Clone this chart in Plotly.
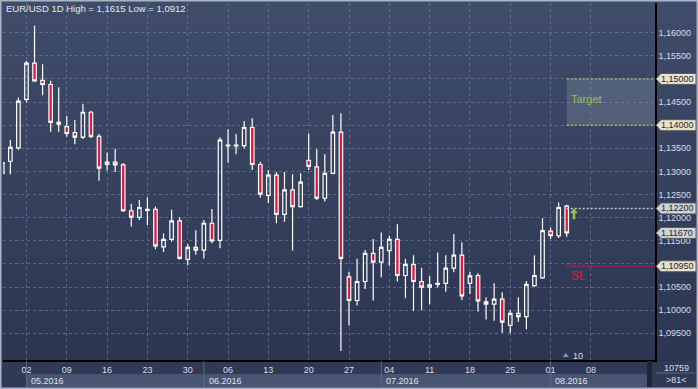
import plotly.graph_objects as go
import pandas as pd

# ---------------- data ----------------
dates = [d.strftime("%Y-%m-%d") for d in pd.bdate_range("2016-04-27", "2016-08-03")]

opens = [1.1296, 1.1322, 1.1351, 1.1456, 1.1534, 1.1497, 1.1488, 1.1406, 1.1397, 1.1384,
         1.1374, 1.1428, 1.1376, 1.1315, 1.1320, 1.1314, 1.1215, 1.1201, 1.1216, 1.1218,
         1.1137, 1.1153, 1.1193, 1.1110, 1.1136, 1.1130, 1.1188, 1.1151, 1.1355, 1.1355,
         1.1356, 1.1395, 1.1315, 1.1248, 1.1292, 1.1207, 1.1260, 1.1224, 1.1324, 1.1310,
         1.1242, 1.1296, 1.1385, 1.1072, 1.1021, 1.1062, 1.1123, 1.1104, 1.1129, 1.1153,
         1.1075, 1.1099, 1.1062, 1.1050, 1.1056, 1.1058, 1.1091, 1.1119, 1.1058, 1.1075,
         1.1018, 1.1013, 1.1024, 1.0967, 1.0993, 1.0986, 1.1053, 1.1070, 1.1171, 1.1161,
         1.1225]
highs = [1.1330, 1.1368, 1.1460, 1.1539, 1.1615, 1.1532, 1.1496, 1.1482, 1.1420, 1.1411,
         1.1446, 1.1431, 1.1381, 1.1341, 1.1349, 1.1318, 1.1230, 1.1238, 1.1244, 1.1224,
         1.1166, 1.1217, 1.1201, 1.1143, 1.1173, 1.1195, 1.1219, 1.1374, 1.1391, 1.1381,
         1.1409, 1.1415, 1.1321, 1.1303, 1.1299, 1.1299, 1.1294, 1.1296, 1.1382, 1.1348,
         1.1337, 1.1422, 1.1426, 1.1083, 1.1111, 1.1130, 1.1154, 1.1168, 1.1161, 1.1186,
         1.1111, 1.1119, 1.1092, 1.1074, 1.1125, 1.1119, 1.1165, 1.1147, 1.1083, 1.1080,
         1.1028, 1.1058, 1.1039, 1.1000, 1.1028, 1.1063, 1.1119, 1.1199, 1.1179, 1.1233,
         1.1228]
lows = [1.1285, 1.1294, 1.1347, 1.1449, 1.1494, 1.1465, 1.1386, 1.1386, 1.1375, 1.1359,
        1.1370, 1.1372, 1.1280, 1.1302, 1.1299, 1.1213, 1.1181, 1.1195, 1.1184, 1.1132,
        1.1126, 1.1148, 1.1109, 1.1097, 1.1120, 1.1112, 1.1145, 1.1134, 1.1319, 1.1337,
        1.1350, 1.1303, 1.1243, 1.1232, 1.1188, 1.1191, 1.1129, 1.1222, 1.1303, 1.1238,
        1.1235, 1.1294, 1.0912, 1.0967, 1.1010, 1.1046, 1.1021, 1.1071, 1.1096, 1.1062,
        1.1026, 1.0998, 1.1000, 1.1013, 1.1049, 1.1040, 1.1082, 1.1022, 1.1035, 1.0997,
        1.0980, 1.0977, 1.0951, 1.0950, 1.0975, 1.0959, 1.1050, 1.1068, 1.1154, 1.1156,
        1.1159]
closes = [1.1319, 1.1352, 1.1452, 1.1534, 1.1496, 1.1488, 1.1406, 1.1402, 1.1382, 1.1374,
          1.1428, 1.1376, 1.1307, 1.1320, 1.1314, 1.1215, 1.1201, 1.1222, 1.1218, 1.1139,
          1.1153, 1.1193, 1.1112, 1.1136, 1.1130, 1.1188, 1.1150, 1.1368, 1.1357, 1.1357,
          1.1395, 1.1315, 1.1251, 1.1292, 1.1207, 1.1260, 1.1224, 1.1277, 1.1311, 1.1242,
          1.1296, 1.1385, 1.1112, 1.1021, 1.1062, 1.1123, 1.1104, 1.1136, 1.1153, 1.1075,
          1.1099, 1.1062, 1.1050, 1.1055, 1.1058, 1.1091, 1.1119, 1.1031, 1.1074, 1.1020,
          1.1013, 1.1024, 1.0974, 1.0993, 1.0986, 1.1056, 1.1075, 1.1172, 1.1161, 1.1222,
          1.1167]

y_ticks = [1.095, 1.100, 1.105, 1.110, 1.115, 1.120, 1.125, 1.130,
           1.135, 1.140, 1.145, 1.150, 1.155, 1.160]
# levels whose axis label is hidden behind a price tag
hidden_tick_labels = [1.110, 1.140, 1.150]
y_tick_labels = ["" if v in hidden_tick_labels else f"{v:.5f}".replace(".", ",")
                 for v in y_ticks]

month_labels = ["05.2016", "06.2016", "07.2016", "08.2016"]
month_starts = ["2016-05-02", "2016-06-01", "2016-07-01", "2016-08-01"]

target_hi, target_lo = 1.15000, 1.14000
entry_level = 1.12200
stop_level = 1.10950
last_price = closes[-1]

title_text = "EUR/USD 1D High = 1,1615 Low = 1,0912"
volume_text = "10759"
count_text = ">81<"

# ---------------- geometry ----------------
W, H = 698, 389
ML, MR, MT, MB = 3, 43, 3, 29
PW, PH = W - ML - MR, H - MT - MB
X_RANGE = [0.09, 80.95]
Y_RANGE = [1.08923, 1.16642]
PX_PER_UNIT = PH / (Y_RANGE[1] - Y_RANGE[0])


def xp(px):
    return (px - ML) / PW


def yp(py):
    return (H - MB - py) / PH


# trading-day calendar used for x positions
axis_days = pd.bdate_range("2016-04-27", "2016-08-12")
pos = {d.strftime("%Y-%m-%d"): i for i, d in enumerate(axis_days)}
x_idx = [pos[d] for d in dates]
mondays = [(i, d) for i, d in enumerate(axis_days) if d.weekday() == 0]
x_tickvals = [i for i, _ in mondays]
x_ticktext = [d.strftime("%d") for _, d in mondays]
last_x = x_idx[-1]

RED = "#e1173d"
GREEN = "#8cc63f"
TXT = "#d9dee7"
FONT = "Liberation Sans, Arial, sans-serif"

fig = go.Figure()
fig.add_trace(go.Candlestick(
    x=x_idx, open=opens, high=highs, low=lows, close=closes,
    increasing=dict(line=dict(color="white", width=1.2), fillcolor="rgba(0,0,0,0)"),
    decreasing=dict(line=dict(color="white", width=1.2), fillcolor=RED),
    whiskerwidth=0, hoverinfo="skip", showlegend=False,
))

shapes = []
# background gradient
N = 32
top = (63, 76, 106)
bot = (43, 52, 80)
for k in range(N):
    t = k / (N - 1)
    c = tuple(int(round(top[j] + (bot[j] - top[j]) * t)) for j in range(3))
    shapes.append(dict(type="rect", xref="paper", yref="paper", layer="below",
                       x0=xp(0), x1=xp(W), y0=yp(k * H / N), y1=yp((k + 1) * H / N + 0.5),
                       fillcolor=f"rgb{c}", line=dict(width=0)))
# bottom band
shapes.append(dict(type="rect", xref="paper", yref="paper", layer="below",
                   x0=xp(0), x1=xp(W), y0=yp(361), y1=yp(H),
                   fillcolor="#303a56", line=dict(width=0)))
# month boxes
starts = [pos[m] for m in month_starts]
ends = starts[1:] + [79.95]
for s, e in zip(starts, ends):
    shapes.append(dict(type="rect", xref="x", yref="paper", layer="below",
                       x0=s, x1=e, y0=yp(374), y1=yp(387),
                       fillcolor="#4a5573", line=dict(width=0)))
    shapes.append(dict(type="line", xref="x", yref="paper", layer="above",
                       x0=s, x1=s, y0=yp(361), y1=yp(387),
                       line=dict(color="#5d6986", width=1)))
# small dark bar in bottom band
shapes.append(dict(type="rect", xref="paper", yref="paper", layer="above",
                   x0=xp(647), x1=xp(652), y0=yp(361), y1=yp(387),
                   fillcolor="#1f2638", line=dict(width=0)))
# right bottom block separator
shapes.append(dict(type="line", xref="paper", yref="paper", layer="above",
                   x0=xp(656), x1=xp(694), y0=yp(373), y1=yp(373),
                   line=dict(color="#5d6986", width=1)))

# target zone
shapes.append(dict(type="rect", xref="x", yref="y", layer="below",
                   x0=last_x, x1=X_RANGE[1], y0=target_lo, y1=target_hi,
                   fillcolor="rgba(150,160,180,0.28)", line=dict(width=0)))
for lv in (target_hi, target_lo):
    shapes.append(dict(type="line", xref="x", yref="y", layer="above",
                       x0=last_x, x1=X_RANGE[1], y0=lv, y1=lv,
                       line=dict(color=GREEN, width=1.5, dash="2px,2px")))
shapes.append(dict(type="line", xref="x", yref="y", layer="above",
                   x0=last_x, x1=X_RANGE[1], y0=entry_level, y1=entry_level,
                   line=dict(color="#c4c8d0", width=1.5, dash="2px,2px")))
shapes.append(dict(type="line", xref="x", yref="y", layer="above",
                   x0=last_x, x1=X_RANGE[1], y0=stop_level, y1=stop_level,
                   line=dict(color=RED, width=1.5, dash="2px,2px")))

# small marker triangle near bottom
tri_y0 = Y_RANGE[0] + 3.0 / PX_PER_UNIT
tri_y1 = Y_RANGE[0] + 7.0 / PX_PER_UNIT
shapes.append(dict(type="path", xref="x", yref="y", layer="above",
                   path=f"M {last_x - 0.5},{tri_y0} L {last_x - 0.12},{tri_y1} L {last_x + 0.26},{tri_y0} Z",
                   fillcolor="#8a94aa", line=dict(width=0)))

# green up arrow (shaft + head) next to the last candle
ax_c = last_x + 0.9
hw = 0.5
sw = 0.16
a_tip = 1.12205
a_head = a_tip - 5.0 / PX_PER_UNIT
a_base = a_tip - 11.0 / PX_PER_UNIT
shapes.append(dict(type="path", xref="x", yref="y", layer="above",
                   path=(f"M {ax_c},{a_tip} L {ax_c + hw},{a_head} L {ax_c + sw},{a_head} "
                         f"L {ax_c + sw},{a_base} L {ax_c - sw},{a_base} L {ax_c - sw},{a_head} "
                         f"L {ax_c - hw},{a_head} Z"),
                   fillcolor=GREEN, line=dict(width=0)))

annotations = []
# price tags
dh = 5.5 / PX_PER_UNIT
tags = [(target_hi, "#e6e2cb"), (target_lo, "#e6e2cb"), (entry_level, "#cfd2d8"),
        (last_price, "#cfd2d8"), (stop_level, "#e6e2cb")]
for lv, col in tags:
    shapes.append(dict(type="path", xref="paper", yref="y", layer="above",
                       path=(f"M {xp(656)},{lv} L {xp(661)},{lv + dh} L {xp(696)},{lv + dh} "
                             f"L {xp(696)},{lv - dh} L {xp(661)},{lv - dh} Z"),
                       fillcolor=col, line=dict(color="#55595f", width=1)))
    annotations.append(dict(xref="paper", yref="y", x=xp(659.5), y=lv, xanchor="left",
                            yanchor="middle", showarrow=False,
                            text=f"{lv:.5f}".replace(".", ","),
                            font=dict(family=FONT, size=9, color="#23262c")))

# outer border
shapes.append(dict(type="rect", xref="paper", yref="paper", layer="above",
                   x0=xp(0.75), x1=xp(W - 0.75), y0=yp(0.75), y1=yp(H - 0.75),
                   line=dict(color="#aab4c3", width=1.5)))

annotations += [
    dict(xref="paper", yref="paper", x=xp(4), y=yp(8.5), xanchor="left", yanchor="middle",
         showarrow=False, text=title_text, font=dict(family=FONT, size=9.5, color="#e4e8ef")),
    dict(xref="x", yref="y", x=last_x + 0.25, y=1.1457, xanchor="left", yanchor="middle",
         showarrow=False, text="Target", font=dict(family=FONT, size=11, color=GREEN)),
    dict(xref="x", yref="y", x=last_x + 0.3, y=1.1074, xanchor="left", yanchor="middle",
         showarrow=False, text="SL", font=dict(family=FONT, size=12, color=RED)),
    dict(xref="x", yref="y", x=last_x + 0.55, y=Y_RANGE[0] + 4.5 / PX_PER_UNIT, xanchor="left",
         yanchor="middle", showarrow=False, text="10",
         font=dict(family=FONT, size=9, color=TXT)),
    dict(xref="paper", yref="paper", x=xp(676.5), y=yp(367.5), xanchor="center",
         yanchor="middle", showarrow=False, text=volume_text,
         font=dict(family=FONT, size=9, color=TXT)),
    dict(xref="paper", yref="paper", x=xp(676.5), y=yp(380), xanchor="center",
         yanchor="middle", showarrow=False, text=count_text,
         font=dict(family=FONT, size=9, color=TXT)),
]
for lab, s in zip(month_labels, starts):
    annotations.append(dict(xref="x", yref="paper", x=s + 0.35, y=yp(380.5), xanchor="left",
                            yanchor="middle", showarrow=False, text=lab,
                            font=dict(family=FONT, size=9, color="#dfe4ec")))

GRID = "rgba(125,140,170,0.55)"
fig.update_layout(
    width=W, height=H,
    margin=dict(l=ML, r=MR, t=MT, b=MB, pad=0),
    paper_bgcolor="#36415e", plot_bgcolor="rgba(0,0,0,0)",
    boxgap=0.38, showlegend=False, hovermode=False,
    shapes=shapes, annotations=annotations,
    xaxis=dict(type="linear", range=X_RANGE, rangeslider=dict(visible=False),
               tickvals=x_tickvals, ticktext=x_ticktext, ticks="",
               tickfont=dict(family=FONT, size=9, color=TXT),
               showgrid=True, gridcolor=GRID, griddash="3px,3px", gridwidth=1,
               showline=True, linecolor="black", linewidth=2, zeroline=False,
               fixedrange=True, automargin=False),
    yaxis=dict(range=Y_RANGE, side="right", tickvals=y_ticks, ticktext=y_tick_labels,
               ticks="", tickfont=dict(family=FONT, size=9, color=TXT),
               showgrid=True, gridcolor=GRID, griddash="3px,3px", gridwidth=1,
               showline=True, linecolor="black", linewidth=1.5, zeroline=False,
               fixedrange=True, automargin=False),
)

fig.write_html("out.html", config={"displayModeBar": False},
               post_script="document.body.style.margin='0';document.body.style.padding='0';")
